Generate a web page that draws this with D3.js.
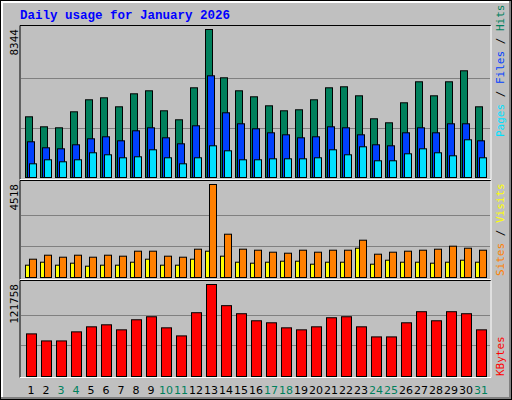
<!DOCTYPE html>
<html><head><meta charset="utf-8">
<script src="https://cdn.jsdelivr.net/npm/d3@7"></script>
<style>body{margin:0;background:#fff}</style></head>
<body><script>
const days = d3.range(1,32);
const weekend = [3,4,10,11,17,18,24,25,31];
const hits = [3422,2858,2802,3704,4381,4493,3986,4719,4888,3761,3253,5057,8344,5621,4888,4550,4042,3761,3817,4381,5057,5114,4606,3310,3084,4212,5396,4606,5396,6016,3986];
const files = [2013,1675,1618,1844,2182,2295,2069,2633,2802,2238,1900,2915,5734,3648,3028,2746,2520,2407,2238,2295,2858,2802,2407,1844,1787,2520,2802,2520,3028,3028,2069];
const pages = [772,998,885,998,1393,1280,1111,1167,1562,1111,772,1111,1787,1505,998,998,1054,1054,1054,1111,1562,1280,1731,942,942,1336,1618,1393,1223,2126,1111];
const sites = [889,1083,986,1083,986,1083,1035,1278,1278,1035,986,1375,4518,2103,1375,1326,1229,1180,1326,1229,1326,1326,1812,1132,1229,1278,1326,1375,1521,1423,1326];
const visits = [598,743,598,695,549,598,598,743,889,598,598,889,1278,1035,743,695,743,792,792,646,743,743,1423,646,840,743,743,695,743,840,743];
const kbytes = [56410,47080,47080,59080,65750,68420,61750,75080,79080,64410,53740,84420,121758,93750,83080,73750,71080,64410,61750,65750,77750,79080,65750,52410,52410,71080,85750,73750,85750,83080,61750];
const maxLabels = ["8344","4518","121758"];

const W=512,H=400;
const svg=d3.select("body").append("svg").attr("width",W).attr("height",H);
svg.append("rect").attr("width",W).attr("height",H).attr("fill","#000");
svg.append("rect").attr("x",1).attr("y",1).attr("width",W-2).attr("height",H-2).attr("fill","#808080");
svg.append("rect").attr("x",1).attr("y",1).attr("width",W-4).attr("height",H-4).attr("fill","#fff");
svg.append("rect").attr("x",3).attr("y",3).attr("width",W-6).attr("height",H-6).attr("fill","#C0C0C0");

svg.append("text").attr("x",20).attr("y",19).text("Daily usage for January 2026")
 .attr("font-family","'Liberation Mono','DejaVu Sans Mono',monospace").attr("font-weight","bold")
 .attr("font-size",12.5).attr("fill","#0000FF");

const x = d3.scaleLinear().domain([1,31]).range([25,475]);
const L=20,R=491;
function panel(top,bottom,base,maxPix,max){
  svg.append("line").attr("x1",L).attr("x2",R).attr("y1",top).attr("y2",top).attr("stroke","#000");
  svg.append("line").attr("x1",L).attr("x2",L).attr("y1",top).attr("y2",bottom).attr("stroke","#000");
  svg.append("line").attr("x1",R).attr("x2",R).attr("y1",top).attr("y2",bottom).attr("stroke","#fff");
  svg.append("line").attr("x1",L).attr("x2",R).attr("y1",bottom).attr("y2",bottom).attr("stroke","#fff");
  const y=d3.scaleLinear().domain([0,max]).range([base,base-maxPix]);
  [1/3,2/3].forEach(f=>svg.append("line").attr("x1",L+1).attr("x2",R-1)
    .attr("y1",Math.round(base-maxPix*f)+.5).attr("y2",Math.round(base-maxPix*f)+.5).attr("stroke","#808080"));
  return y;
}
function bars(data,y,base,off,w,color){
  svg.append("g").selectAll("rect").data(data).join("rect")
   .attr("x",(d,i)=>x(i+1)+off+.5).attr("y",d=>y(d)+.5).attr("width",w).attr("height",d=>base-y(d))
   .attr("fill",color).attr("stroke","#000");
}
const y1=panel(25.5,179.5,177,148,d3.max(hits));
bars(hits,y1,177,0,7,"#00805C");
bars(files,y1,177,2,7,"#0040FF");
bars(pages,y1,177,4,7,"#00E0FF");
const y2=panel(180.5,279.5,277,93,d3.max(sites));
bars(visits,y2,277,0,4,"#FFFF00");
bars(sites,y2,277,4,7,"#FF8000");
const y3=panel(280.5,377.5,376,92,d3.max(kbytes));
bars(kbytes,y3,376,1,10,"#FF0000");

const mono="'DejaVu Sans Mono',monospace";
[[29,0],[184,1],[284,2]].forEach(([yy,i])=>{
  svg.append("text").attr("transform",`translate(18,${yy}) rotate(-90)`).attr("text-anchor","end")
   .attr("font-family",mono).attr("font-size",11).attr("fill","#000").text(maxLabels[i]);
});
function sideLabel(yb,parts){
  const t=svg.append("text").attr("transform",`translate(504,${yb}) rotate(-90)`)
   .attr("font-family",mono).attr("font-size",11);
  parts.forEach(([s,c])=>t.append("tspan").attr("fill",c).text(s));
}
sideLabel(137,[["Pages","#00E0FF"],[" / ","#000"],["Files","#0040FF"],[" / ","#000"],["Hits","#00805C"]]);
sideLabel(276,[["Sites","#FF8000"],[" / ","#000"],["Visits","#FFFF00"]]);
sideLabel(376,[["KBytes","#FF0000"]]);

svg.append("g").selectAll("text").data(days).join("text")
 .attr("x",d=>x(d)+6).attr("y",394).attr("text-anchor","middle")
 .attr("font-family","'DejaVu Sans',sans-serif").attr("font-size",11)
 .attr("fill",d=>weekend.includes(d)?"#00805C":"#000").text(d=>d);
</script></body></html>
